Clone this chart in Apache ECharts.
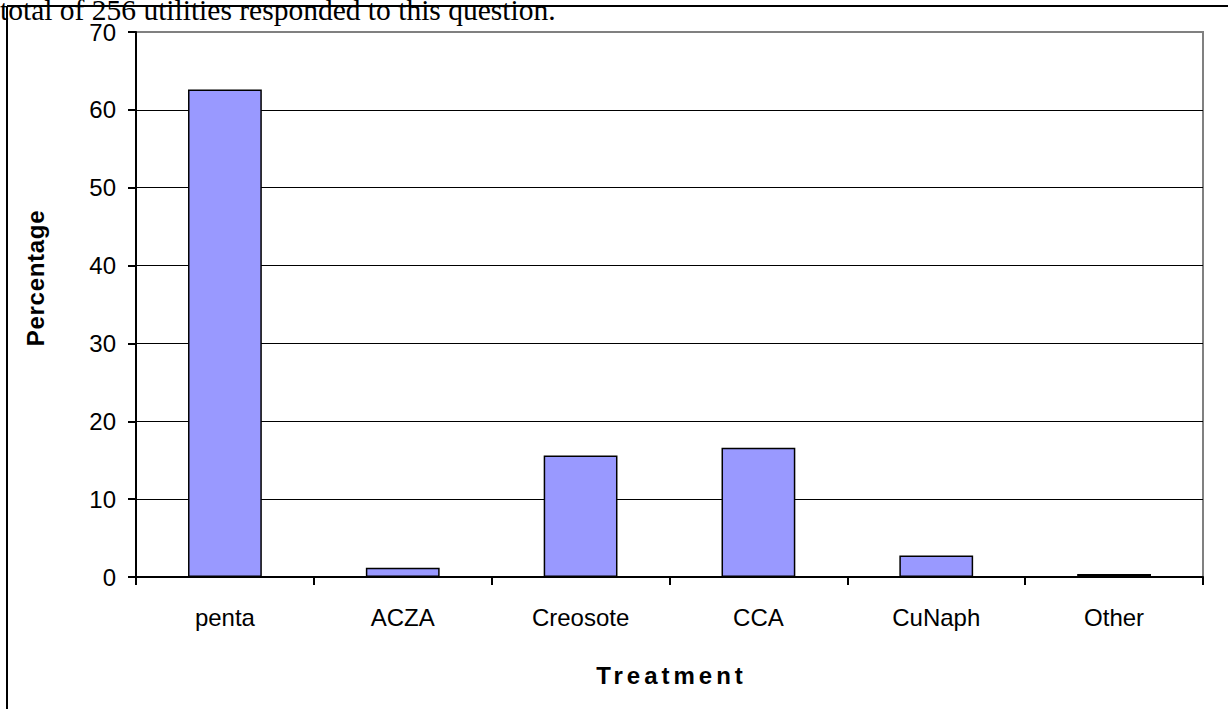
<!DOCTYPE html>
<html>
<head>
<meta charset="utf-8">
<script src="https://cdn.jsdelivr.net/npm/echarts@6/dist/echarts.min.js"></script>
<style>
html,body{margin:0;padding:0;background:#fff;}
#c{width:1228px;height:709px;}
</style>
</head>
<body>
<div id="c"></div>
<script>
const categories = ['penta', 'ACZA', 'Creosote', 'CCA', 'CuNaph', 'Other'];
const percentages = [62.6, 1.2, 15.6, 16.6, 2.75, 0.4];
const yTicks = [0, 10, 20, 30, 40, 50, 60, 70];
const noteText = 'total of 256 utilities responded to this question.';
const yName = 'Percentage';
const xName = 'Treatment';

const chart = echarts.init(document.getElementById('c'), null, {renderer: 'svg'});
chart.setOption({
  backgroundColor: '#ffffff',
  animation: false,
  grid: {
    left: 136, right: 25, top: 32, bottom: 132,
    show: true, borderColor: '#808080', borderWidth: 2, backgroundColor: 'transparent'
  },
  graphic: [
    {type: 'line', shape: {x1: 7, y1: 6, x2: 1228, y2: 6}, style: {stroke: '#000', lineWidth: 2}, z: 1},
    {type: 'line', shape: {x1: 7, y1: 6, x2: 7, y2: 709}, style: {stroke: '#000', lineWidth: 2}, z: 1},
    {type: 'text', left: 0, top: -5, z: 10,
     style: {text: noteText, font: '29.5px "Liberation Serif", "Times New Roman", serif', fill: '#000'}},
    {type: 'text', id: 'yname', x: 35, y: 278, rotation: Math.PI / 2, z: 10,
     style: {text: yName, font: 'bold 24px "Liberation Sans", Arial, sans-serif', fill: '#000',
             align: 'center', verticalAlign: 'middle'}},
    {type: 'text', id: 'xname', x: 671.5, y: 675, z: 10,
     style: {text: xName, font: 'bold 24px "Liberation Sans", Arial, sans-serif', fill: '#000',
             align: 'center', verticalAlign: 'middle'}}
  ],
  xAxis: {
    type: 'category',
    data: categories,
    axisLine: {lineStyle: {color: '#000', width: 2}},
    axisTick: {show: true, length: 8, lineStyle: {color: '#000', width: 2}},
    axisLabel: {fontFamily: 'Liberation Sans, Arial', fontSize: 24, color: '#000', margin: 28},
    splitLine: {show: false}
  },
  yAxis: {
    type: 'value',
    min: 0, max: 70, interval: 10,
    axisLine: {show: true, lineStyle: {color: '#000', width: 2}},
    axisTick: {show: true, length: 8, lineStyle: {color: '#000', width: 2}},
    axisLabel: {fontFamily: 'Liberation Sans, Arial', fontSize: 24, color: '#000', margin: 20,
      formatter: function (v) { return yTicks.indexOf(v) >= 0 ? String(v) : ''; }},
    splitLine: {show: true, lineStyle: {color: ['#000', '#000', '#000', '#000', '#000', '#000', '#000', '#808080'], width: 1}}
  },
  series: [{
    type: 'bar',
    data: percentages,
    barWidth: '41.5%',
    itemStyle: {color: '#9999FF', borderColor: '#000', borderWidth: 1.5}
  }]
});

// Excel-style letter spacing on the axis titles
document.querySelectorAll('#c text').forEach(function (t) {
  if (t.textContent === xName) t.setAttribute('letter-spacing', '4px');
  if (t.textContent === yName) t.setAttribute('letter-spacing', '0.7px');
});
</script>
</body>
</html>
